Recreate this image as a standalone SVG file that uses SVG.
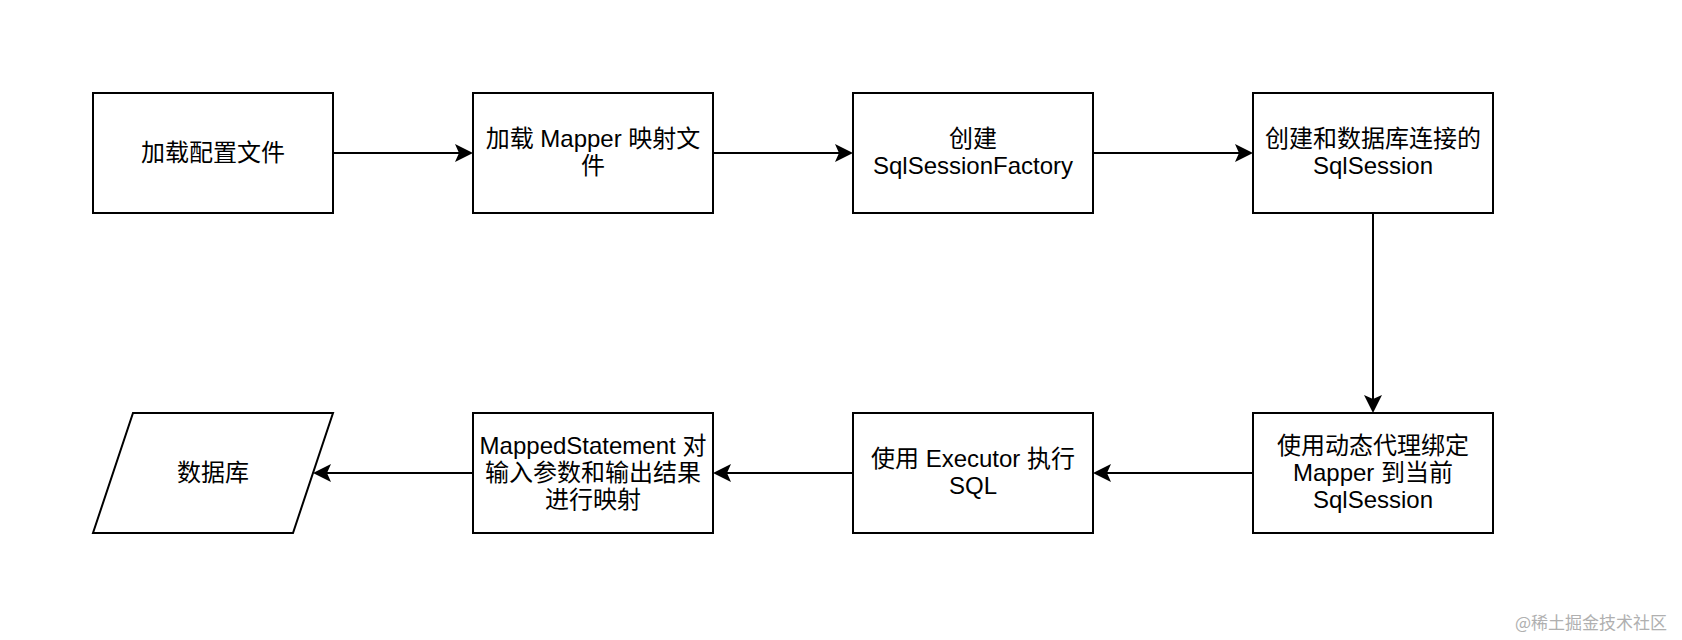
<svg xmlns="http://www.w3.org/2000/svg" width="1682" height="640" viewBox="0 0 1682 640">
<style>
.box{fill:#fff;stroke:#000;stroke-width:2}
.t{font-family:"Liberation Sans","Noto Sans CJK SC",sans-serif;font-size:24px;fill:#000;text-anchor:middle}
.c{fill:none;stroke:#000;stroke-width:2}
.wm{font-family:"Noto Sans CJK SC",sans-serif;font-size:17px;fill:#b0b0b0}
</style>
<defs>
<marker id="ah" markerUnits="userSpaceOnUse" markerWidth="22" markerHeight="22" viewBox="0 0 22 22" refX="10" refY="11" orient="auto">
<path d="M2,2 L20,11 L2,20 L6,11 z" fill="#000"/>
</marker>
</defs>
<rect width="1682" height="640" fill="#fff"/>
<g id="connectors">
<line class="c" x1="333" y1="153" x2="463" y2="153" marker-end="url(#ah)"/>
<line class="c" x1="713" y1="153" x2="843" y2="153" marker-end="url(#ah)"/>
<line class="c" x1="1093" y1="153" x2="1243" y2="153" marker-end="url(#ah)"/>
<line class="c" x1="1373" y1="213" x2="1373" y2="403" marker-end="url(#ah)"/>
<line class="c" x1="1253" y1="473" x2="1103" y2="473" marker-end="url(#ah)"/>
<line class="c" x1="853" y1="473" x2="723" y2="473" marker-end="url(#ah)"/>
<line class="c" x1="473" y1="473" x2="323" y2="473" marker-end="url(#ah)"/>
</g>
<g id="n1"><rect class="box" x="93" y="93" width="240" height="120"/><text class="t" x="213" y="161">加载配置文件</text></g>
<g id="n2"><rect class="box" x="473" y="93" width="240" height="120"/><text class="t" x="593" y="147">加载 Mapper 映射文</text><text class="t" x="593" y="174">件</text></g>
<g id="n3"><rect class="box" x="853" y="93" width="240" height="120"/><text class="t" x="973" y="147">创建</text><text class="t" x="973" y="174">SqlSessionFactory</text></g>
<g id="n4"><rect class="box" x="1253" y="93" width="240" height="120"/><text class="t" x="1373" y="147">创建和数据库连接的</text><text class="t" x="1373" y="174">SqlSession</text></g>
<g id="n5"><rect class="box" x="1253" y="413" width="240" height="120"/><text class="t" x="1373" y="454">使用动态代理绑定</text><text class="t" x="1373" y="481">Mapper 到当前</text><text class="t" x="1373" y="508">SqlSession</text></g>
<g id="n6"><rect class="box" x="853" y="413" width="240" height="120"/><text class="t" x="973" y="467">使用 Executor 执行</text><text class="t" x="973" y="494">SQL</text></g>
<g id="n7"><rect class="box" x="473" y="413" width="240" height="120"/><text class="t" x="593" y="454">MappedStatement 对</text><text class="t" x="593" y="481">输入参数和输出结果</text><text class="t" x="593" y="508">进行映射</text></g>
<g id="n8"><polygon class="box" points="133,413 333,413 293,533 93,533"/><text class="t" x="213" y="481">数据库</text></g>
<text class="wm" x="1515" y="629">@稀土掘金技术社区</text>
</svg>
